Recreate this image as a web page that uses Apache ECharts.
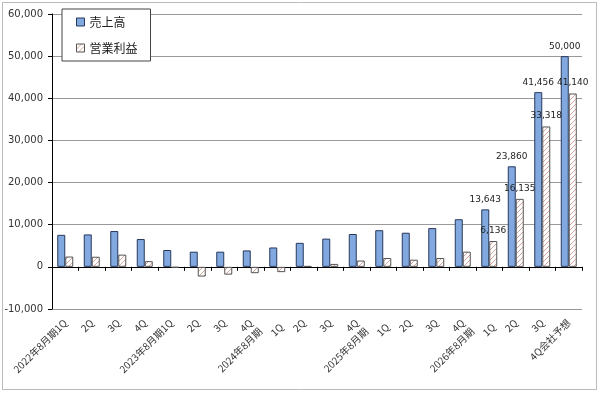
<!DOCTYPE html>
<html>
<head>
<meta charset="utf-8">
<script src="https://cdn.jsdelivr.net/npm/echarts@6/dist/echarts.min.js"></script>
<style>
  html, body { margin: 0; padding: 0; background: #fff; }
  #chart { width: 600px; height: 393px; }
</style>
</head>
<body>
<div id="chart"></div>
<script>
// 四半期ラベル（\n は2行ラベル）
const categories = [
  '2022年8月期1Q', '2Q', '3Q', '4Q',
  '2023年8月期1Q', '2Q', '3Q', '4Q',
  '2024年8月期\n1Q', '2Q', '3Q', '4Q',
  '2025年8月期\n1Q', '2Q', '3Q', '4Q',
  '2026年8月期\n1Q', '2Q', '3Q', '4Q会社予想'
]
// 売上高
const sales = [
  7600, 7700, 8500, 6600,
  4000, 3600, 3600, 3900,
  4600, 5700, 6700, 7800,
  8700, 8100, 9200, 11300,
  13643, 23860, 41456, 50000
]
// 営業利益
const opProfit = [
  2450, 2400, 2900, 1350,
  -200, -2300, -1850, -1500,
  -1250, 200, 700, 1500,
  2100, 1700, 2100, 3600,
  6136, 16135, 33318, 41140
]
const legendNames = ['売上高', '営業利益']
const labelFrom = 16 // ここから数値ラベルを表示

const fmt = (v) => v.toLocaleString('en-US')

// 斜線パターン
function hatch() {
  const c = document.createElement('canvas')
  c.width = 5
  c.height = 5
  const ctx = c.getContext('2d')
  ctx.fillStyle = '#fff'
  ctx.fillRect(0, 0, 5, 5)
  ctx.strokeStyle = '#d8a59c'
  ctx.lineWidth = 1
  ctx.beginPath()
  ctx.moveTo(0, 5)
  ctx.lineTo(5, 0)
  ctx.moveTo(-1, 1)
  ctx.lineTo(1, -1)
  ctx.moveTo(4, 6)
  ctx.lineTo(6, 4)
  ctx.stroke()
  return c
}

const myChart = echarts.init(document.getElementById('chart'))

myChart.setOption({
  animation: false,
  textStyle: { fontFamily: '"DejaVu Sans", sans-serif' },
  graphic: [
    {
      type: 'rect',
      shape: { x: 2.5, y: 2.5, width: 594, height: 387 },
      style: { fill: 'none', stroke: '#bbb', lineWidth: 1 },
      silent: true
    }
  ],
  legend: {
    data: legendNames,
    orient: 'vertical',
    left: 62,
    top: 9,
    padding: [7, 13, 7, 14],
    icon: 'rect',
    itemWidth: 8,
    itemHeight: 8,
    itemGap: 14,
    itemStyle: { borderWidth: 1 },
    borderColor: '#444',
    borderWidth: 1,
    backgroundColor: '#fff',
    z: 10,
    textStyle: {
      fontFamily: '"Noto Sans CJK JP", sans-serif',
      fontSize: 12,
      color: '#222'
    }
  },
  grid: {
    left: 52,
    right: 18,
    top: 14,
    bottom: 84
  },
  xAxis: [
    {
      // 0の位置の軸線
      type: 'category',
      data: categories,
      position: 'top',
      boundaryGap: true,
      axisLine: { onZero: true, lineStyle: { color: '#000', width: 1 } },
      axisTick: { show: true, interval: 0, inside: true, length: 4, lineStyle: { color: '#000' } },
      axisLabel: { show: false, interval: 0 },
      splitLine: { show: false }
    },
    {
      // 下側のラベル
      type: 'category',
      data: categories,
      position: 'bottom',
      axisLine: { show: false, onZero: false },
      axisTick: { show: false },
      splitLine: { show: false },
      axisLabel: {
        interval: 0,
        rotate: 45,
        margin: 12,
        color: '#333',
        fontFamily: '"Noto Sans CJK JP", sans-serif',
        fontSize: 10,
        formatter: function (v) {
          if (v.indexOf('\n') < 0) return v
          const parts = v.split('\n')
          return '{a|' + parts[0] + '}\n{b|' + parts[1] + '}'
        },
        rich: {
          a: {
            fontFamily: '"Noto Sans CJK JP", sans-serif',
            fontSize: 10,
            color: '#333',
            lineHeight: 12,
            padding: [0, 18, 0, 0]
          },
          b: {
            fontFamily: '"Noto Sans CJK JP", sans-serif',
            fontSize: 10,
            color: '#333',
            lineHeight: 12,
            align: 'right'
          }
        }
      }
    }
  ],
  yAxis: {
    type: 'value',
    min: -10000,
    max: 60000,
    interval: 10000,
    axisLine: { show: true, lineStyle: { color: '#000', width: 1 } },
    axisTick: { show: true, length: 4, lineStyle: { color: '#000' } },
    axisLabel: {
      margin: 9,
      color: '#333',
      fontSize: 10,
      formatter: (v) => fmt(v)
    },
    splitLine: { lineStyle: { color: '#999', width: 1 } }
  },
  series: [
    {
      name: legendNames[0],
      type: 'bar',
      data: sales,
      barWidth: 8,
      barGap: '0%',
      itemStyle: {
        color: '#82a9df',
        borderColor: '#26385c',
        borderWidth: 1
      },
      label: {
        show: true,
        position: 'top',
        distance: 5,
        fontSize: 9,
        color: '#222',
        formatter: (p) => (p.dataIndex >= labelFrom ? fmt(p.value) : '')
      }
    },
    {
      name: legendNames[1],
      type: 'bar',
      data: opProfit,
      barWidth: 8,
      itemStyle: {
        color: { image: hatch(), repeat: 'repeat' },
        borderColor: '#555',
        borderWidth: 1
      },
      label: {
        show: true,
        position: 'top',
        distance: 6,
        fontSize: 9,
        color: '#222',
        formatter: (p) => (p.dataIndex >= labelFrom ? fmt(p.value) : '')
      }
    }
  ]
})
</script>
</body>
</html>
